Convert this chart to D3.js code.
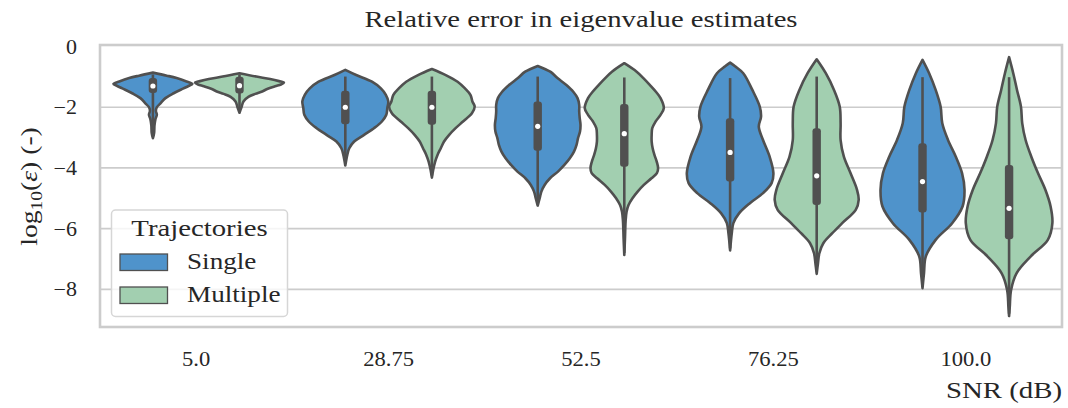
<!DOCTYPE html>
<html>
<head>
<meta charset="utf-8">
<script src="https://cdn.jsdelivr.net/npm/d3@7"></script>
<style>
  body { margin: 0; background: #ffffff; }
  text { font-family: "Liberation Serif", "DejaVu Serif", serif; fill: #262626; }
</style>
</head>
<body>
<div id="chart"></div>
<script>
"use strict";

let svgWidth = 1068;
let svgHeight = 408;

/* Data */
let groups = ["5.0", "28.75", "52.5", "76.25", "100.0"];   // SNR (dB)
let hues = ["Single", "Multiple"];
let yTicks = [0, -2, -4, -6, -8];

// violin outlines: [log10(err), density]
let singleProfiles = [
  [[-0.86,0],[-0.96,14],[-1.04,24],[-1.15,34],[-1.23,40],[-1.30,36],[-1.38,31],[-1.54,21],[-1.70,12.7],[-1.87,7.7],[-2.0,4],[-2.12,3],[-2.25,4],[-2.4,2.5],[-2.6,1.6],[-2.85,1.2],[-3.02,0]],
  [[-0.77,0],[-0.94,11],[-1.16,27],[-1.38,36],[-1.59,41],[-1.81,43.5],[-2.03,42.5],[-2.25,41.5],[-2.47,37],[-2.69,29],[-2.91,19],[-3.13,9],[-3.35,4],[-3.57,2],[-3.92,0]],
  [[-0.64,0],[-0.83,12.7],[-1.04,20],[-1.27,29],[-1.49,36],[-1.70,40.3],[-1.92,42],[-2.14,42],[-2.36,42.5],[-2.58,43.3],[-2.80,42.8],[-3.02,40.8],[-3.24,39.3],[-3.46,36.7],[-3.68,32.5],[-3.90,27],[-4.12,20.5],[-4.34,12.5],[-4.56,7],[-4.78,3.7],[-5.00,2],[-5.24,0]],
  [[-0.53,0],[-0.65,5],[-0.88,13.3],[-1.43,22.5],[-1.98,30],[-2.31,31.3],[-2.64,29],[-3.08,33.3],[-3.63,40],[-4.17,43.8],[-4.50,42],[-4.83,33.3],[-5.16,20],[-5.49,9.2],[-5.82,3.3],[-6.15,1.7],[-6.72,0]],
  [[-0.44,0],[-0.88,6.7],[-1.43,13.3],[-1.98,18.3],[-2.53,20],[-3.08,25.8],[-3.63,33.7],[-4.17,40],[-4.72,42.5],[-5.27,40.5],[-5.82,30],[-6.37,13.3],[-6.92,3.3],[-7.47,1.5],[-7.96,0]]
];
let multipleProfiles = [
  [[-0.88,0],[-0.99,17],[-1.07,31],[-1.14,40],[-1.19,45],[-1.25,42],[-1.31,36],[-1.40,28],[-1.48,23],[-1.56,16],[-1.66,9],[-1.81,4],[-2.0,2],[-2.18,0]],
  [[-0.74,0],[-0.94,14],[-1.16,26],[-1.38,33.5],[-1.59,39],[-1.81,41],[-1.98,43.3],[-2.20,40.5],[-2.47,31.5],[-2.69,24],[-2.91,17.5],[-3.13,12.3],[-3.35,9],[-3.57,5.7],[-3.79,3.3],[-4.07,1.3],[-4.32,0]],
  [[-0.55,0],[-0.83,12.5],[-1.04,19.3],[-1.27,26],[-1.49,32],[-1.70,36.7],[-2.03,40],[-2.25,36.7],[-2.47,31.7],[-2.69,28.3],[-2.91,27.7],[-3.13,27.7],[-3.35,28.7],[-3.57,30.5],[-3.79,32.8],[-4.01,34.2],[-4.17,33],[-4.34,27.5],[-4.56,19.8],[-4.78,13.5],[-5.00,8.3],[-5.22,4.3],[-5.44,2.3],[-5.77,1.3],[-6.32,0.7],[-6.87,0]],
  [[-0.42,0],[-0.88,9.2],[-1.43,17.5],[-1.98,23.3],[-2.53,24.2],[-3.08,24.2],[-3.63,27.5],[-4.17,34.2],[-4.72,40.8],[-5.05,42.5],[-5.38,39.5],[-5.82,25.8],[-6.15,15.8],[-6.48,6.7],[-6.81,2.7],[-7.14,1.3],[-7.49,0]],
  [[-0.35,0],[-0.88,4.2],[-1.43,8],[-1.98,12],[-2.53,13.3],[-3.08,16.7],[-3.63,22.5],[-4.17,29.2],[-4.72,36.7],[-5.27,42],[-5.82,43.8],[-6.37,39.2],[-6.92,21.7],[-7.47,7.5],[-8.02,2],[-8.57,0.7],[-8.88,0]]
];

// inner box stats
let singleQ3 = [-1.04, -1.46, -1.81, -2.36, -3.19];
let singleMedian = [-1.30, -2.00, -2.63, -3.49, -4.45];
let singleQ1 = [-1.53, -2.56, -3.43, -4.45, -5.47];
let singleWhiskHi = [-0.92, -0.99, -0.99, -1.04, -1.01];
let singleWhiskLo = [-2.95, -3.85, -5.15, -6.65, -7.90];

let multipleQ3 = [-1.00, -1.46, -1.89, -2.69, -3.90];
let multipleMedian = [-1.29, -2.00, -2.87, -4.26, -5.33];
let multipleQ1 = [-1.55, -2.58, -3.96, -5.22, -6.35];
let multipleWhiskHi = [-0.92, -0.99, -1.02, -0.99, -1.01];
let multipleWhiskLo = [-2.12, -4.25, -6.80, -7.40, -8.80];

let colors = { Single: "#4f93cb", Multiple: "#a2cfb0" };
let lineColor = "#505050";
let gridColor = "#cccccc";

/* Canvas */
let svg = d3.select("#chart")
  .append("svg")
  .attr("width", svgWidth)
  .attr("height", svgHeight);

let plotLeft = 100, plotRight = 1062, plotTop = 45, plotBottom = 327;

// widen Times glyphs a little so they take the room Computer Modern took
function widen(sel, k) {
  let w = sel.node().getComputedTextLength();
  sel.attr("textLength", w * k).attr("lengthAdjust", "spacingAndGlyphs");
  return sel;
}

/* Scales */
let xScale = d3.scaleBand()
  .domain(groups)
  .range([plotLeft, plotRight]);

let hueScale = d3.scaleBand()
  .domain(hues)
  .range([-xScale.bandwidth() * 0.45, xScale.bandwidth() * 0.45]);

let yScale = d3.scaleLinear()
  .domain([-9.24, 0.05])
  .range([plotBottom, plotTop]);

let wScale = d3.scaleLinear()
  .domain([0, 44])
  .range([0, xScale.bandwidth() * 0.226]);

/* Grid */
yTicks.forEach(t => {
  if (t === 0) return;
  svg.append("line")
    .attr("x1", plotLeft).attr("x2", plotRight)
    .attr("y1", yScale(t)).attr("y2", yScale(t))
    .attr("stroke", gridColor)
    .attr("stroke-width", 1.7);
});

/* Frame */
svg.append("rect")
  .attr("x", plotLeft).attr("y", plotTop)
  .attr("width", plotRight - plotLeft)
  .attr("height", plotBottom - plotTop)
  .attr("fill", "none")
  .attr("stroke", gridColor)
  .attr("stroke-width", 2.6);

/* Violins */
let series = [
  { hue: "Single", profiles: singleProfiles, q1: singleQ1, q3: singleQ3, med: singleMedian, lo: singleWhiskLo, hi: singleWhiskHi },
  { hue: "Multiple", profiles: multipleProfiles, q1: multipleQ1, q3: multipleQ3, med: multipleMedian, lo: multipleWhiskLo, hi: multipleWhiskHi }
];

series.forEach(s => {
  groups.forEach((g, gi) => {
    let cx = xScale(g) + xScale.bandwidth() / 2 + hueScale(s.hue) + hueScale.bandwidth() / 2;

    let area = d3.area()
      .curve(d3.curveCatmullRom.alpha(0.5))
      .y(d => yScale(d[0]))
      .x0(d => cx - wScale(d[1]))
      .x1(d => cx + wScale(d[1]));

    svg.append("path")
      .datum(s.profiles[gi])
      .attr("d", area)
      .attr("fill", colors[s.hue])
      .attr("stroke", lineColor)
      .attr("stroke-width", 2.6)
      .attr("stroke-linejoin", "round");

    // whisker
    svg.append("line")
      .attr("x1", cx).attr("x2", cx)
      .attr("y1", yScale(s.hi[gi])).attr("y2", yScale(s.lo[gi]))
      .attr("stroke", lineColor)
      .attr("stroke-width", 2.6);

    // box
    svg.append("rect")
      .attr("x", cx - 4.2)
      .attr("width", 8.4)
      .attr("y", yScale(s.q3[gi]))
      .attr("height", yScale(s.q1[gi]) - yScale(s.q3[gi]))
      .attr("rx", 3)
      .attr("fill", lineColor);

    // median
    svg.append("circle")
      .attr("cx", cx)
      .attr("cy", yScale(s.med[gi]))
      .attr("r", 2.6)
      .attr("fill", "#ffffff");
  });
});

/* Y tick labels */
yTicks.forEach(t => {
  let lab = svg.append("text")
    .attr("x", 77)
    .attr("y", yScale(t))
    .attr("dy", "0.35em")
    .attr("text-anchor", "end")
    .attr("font-size", "20px")
    .text(t === 0 ? "0" : "\u2212" + Math.abs(t));
  widen(lab, 1.1);
});

/* X tick labels */
groups.forEach(g => {
  let lab = svg.append("text")
    .attr("x", xScale(g) + xScale.bandwidth() / 2)
    .attr("y", 366)
    .attr("text-anchor", "middle")
    .attr("font-size", "20px")
    .text(g);
  widen(lab, 1.13);
});

/* Title */
widen(svg.append("text")
  .attr("x", (plotLeft + plotRight) / 2)
  .attr("y", 27)
  .attr("text-anchor", "middle")
  .attr("font-size", "23.5px")
  .text("Relative error in eigenvalue estimates"), 1.22);

/* Axis labels */
widen(svg.append("text")
  .attr("x", plotRight)
  .attr("y", 398)
  .attr("text-anchor", "end")
  .attr("font-size", "24px")
  .text("SNR (dB)"), 1.2);

let yLab = svg.append("text")
  .attr("transform", "translate(37," + 186.5 + ") rotate(-90)")
  .attr("text-anchor", "middle")
  .attr("font-size", "24px");
yLab.append("tspan").text("log");
yLab.append("tspan").attr("font-size", "17px").attr("dy", "5").text("10");
yLab.append("tspan").attr("dy", "-5").text("(");
yLab.append("tspan").attr("font-style", "italic").text("\u03b5");
yLab.append("tspan").text(") (-)");
widen(yLab, 1.15);

/* Legend */
let legend = svg.append("g");

legend.append("rect")
  .attr("x", 111.5).attr("y", 210)
  .attr("width", 176).attr("height", 106.5)
  .attr("rx", 4)
  .attr("fill", "#ffffff")
  .attr("fill-opacity", 0.8)
  .attr("stroke", "#d6d6d6")
  .attr("stroke-width", 1.5);

widen(legend.append("text")
  .attr("x", 199.5).attr("y", 236)
  .attr("text-anchor", "middle")
  .attr("font-size", "23px")
  .text("Trajectories"), 1.25);

hues.forEach((h, i) => {
  let yPos = 254 + i * 33;
  legend.append("rect")
    .attr("x", 120).attr("y", yPos)
    .attr("width", 47.5).attr("height", 16.5)
    .attr("fill", colors[h])
    .attr("stroke", lineColor)
    .attr("stroke-width", 1.3);
  widen(legend.append("text")
    .attr("x", 187).attr("y", yPos + 14.5)
    .attr("font-size", "23px")
    .text(h), 1.18);
});
</script>
</body>
</html>
